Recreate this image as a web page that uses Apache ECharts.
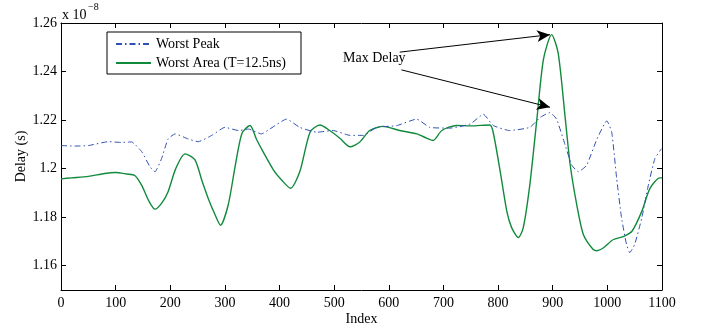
<!DOCTYPE html>
<html>
<head>
<meta charset="utf-8">
<script src="https://cdn.jsdelivr.net/npm/echarts@6/dist/echarts.min.js"></script>
<style>html,body{margin:0;padding:0;background:#fff}#c{width:701px;height:331px}</style>
</head>
<body>
<div id="c"></div>
<script>
// Data in units of 1e-8 s
const peakIdx = [0,25,50,87,110,129,148,163,172,184,196,209,233,251,276,300,325,343,367,382,413,437,468,498,529,553,578,614,651,675,712,749,773,791,821,858,877,895,907,923,935,947,962,981,999,1008,1017,1026,1035,1041,1050,1063,1075,1087,1099];
const peakVal = [1.2095,1.2093,1.2095,1.2111,1.2108,1.2110,1.2069,1.2007,1.1987,1.2041,1.2122,1.2143,1.2122,1.2111,1.2137,1.2170,1.2157,1.2163,1.2143,1.2163,1.2204,1.2170,1.2150,1.2157,1.2137,1.2137,1.2170,1.2177,1.2204,1.2170,1.2167,1.2184,1.2224,1.2178,1.2157,1.2170,1.2211,1.2231,1.2204,1.2095,1.2014,1.1987,1.2014,1.2122,1.2197,1.2150,1.1960,1.1797,1.1688,1.1654,1.1688,1.1797,1.1932,1.2041,1.2082];
const areaIdx = [0,20,50,80,100,120,135,148,160,172,185,196,210,227,245,258,270,282,292,306,318,331,346,358,370,389,405,420,437,456,474,492,511,529,547,565,590,620,651,670,681,697,724,749,785,791,804,816,825,837,846,858,871,883,898,910,923,932,944,956,974,981,993,1011,1029,1045,1063,1078,1096,1100];
const areaVal = [1.1958,1.1962,1.1968,1.1980,1.1984,1.1978,1.1972,1.1930,1.1870,1.1833,1.1860,1.1905,1.2000,1.2061,1.2037,1.1950,1.1874,1.1810,1.1767,1.1850,1.2000,1.2144,1.2178,1.2120,1.2069,1.1994,1.1950,1.1919,1.1987,1.2151,1.2180,1.2157,1.2124,1.2090,1.2110,1.2157,1.2174,1.2157,1.2143,1.2125,1.2116,1.2157,1.2178,1.2176,1.2180,1.2150,1.1987,1.1824,1.1756,1.1716,1.1756,1.1932,1.2204,1.2450,1.2552,1.2476,1.2205,1.2015,1.1851,1.1729,1.1667,1.1662,1.1674,1.1708,1.1720,1.1742,1.1824,1.1919,1.1962,1.1962];
const xTicks = [0,100,200,300,400,500,600,700,800,900,1000,1100];
const yTicks = [1.16,1.18,1.20,1.22,1.24,1.26];
const seriesNames = ['Worst Peak','Worst Area (T=12.5ns)'];
// annotation arrows: [start, tip] in data coords
const arrowA = [[620,1.2480],[895,1.2552]];
const arrowB = [[623,1.2407],[895,1.2253]];

const FONT = 'Liberation Serif';
const FS = 14;
const peakData = peakIdx.map((x,i)=>[x,peakVal[i]]);
const areaData = areaIdx.map((x,i)=>[x,areaVal[i]]);

const tickCommon = {show:true, inside:true, length:5, lineStyle:{color:'#000',width:1}};
const chart = echarts.init(document.getElementById('c'), null, {renderer:'canvas'});
chart.setOption({
  animation:false,
  backgroundColor:'#fff',
  grid:{left:61, right:39, top:23, bottom:38, containLabel:false},
  legend:{
    orient:'vertical', left:107, top:32,
    padding:[5,15,4,8], itemGap:5, itemWidth:35, itemHeight:14,
    borderColor:'#000', borderWidth:1, backgroundColor:'#fff',
    itemStyle:{opacity:0},
    textStyle:{fontFamily:FONT, fontSize:FS, color:'#000'},
    data:seriesNames
  },
  xAxis:[{
    type:'value', min:0, max:1100, interval:100, position:'bottom',
    name:'Index', nameLocation:'middle', nameGap:22, nameMoveOverlap:false,
    nameTextStyle:{fontFamily:FONT, fontSize:FS, color:'#000'},
    axisLine:{show:true, lineStyle:{color:'#000',width:1}},
    axisTick:tickCommon,
    axisLabel:{fontFamily:FONT, fontSize:FS, color:'#000', margin:6, customValues:xTicks,
      formatter:v=>String(v)},
    splitLine:{show:false}
  },{
    type:'value', min:0, max:1100, interval:100, position:'top',
    axisLine:{show:true, onZero:false, lineStyle:{color:'#000',width:1}},
    axisTick:tickCommon, axisLabel:{show:false}, splitLine:{show:false}
  }],
  yAxis:[{
    type:'value', min:1.15, max:1.26, position:'left',
    name:'Delay (s)', nameLocation:'middle', nameGap:33, nameRotate:90, nameMoveOverlap:false,
    nameTextStyle:{fontFamily:FONT, fontSize:FS, color:'#000'},
    axisLine:{show:true, onZero:false, lineStyle:{color:'#000',width:1}},
    axisTick:Object.assign({customValues:yTicks}, tickCommon),
    axisLabel:{fontFamily:FONT, fontSize:FS, color:'#000', margin:4, customValues:yTicks,
      formatter:v=>String(parseFloat((+v).toFixed(2)))},
    splitLine:{show:false}
  },{
    type:'value', min:1.15, max:1.26, position:'right',
    axisLine:{show:true, onZero:false, lineStyle:{color:'#000',width:1}},
    axisTick:Object.assign({customValues:yTicks}, tickCommon),
    axisLabel:{show:false}, splitLine:{show:false}
  }],
  series:[{
    name:seriesNames[0], type:'line', data:peakData, symbol:'none', showSymbol:false, smooth:0.15,
    lineStyle:{color:'#3050b2', width:1, type:[6,3,1.5,3]}, itemStyle:{color:'#3050b2'}, z:3
  },{
    name:seriesNames[1], type:'line', data:areaData, symbol:'none', showSymbol:false, smooth:0.25,
    lineStyle:{color:'#128a3c', width:1.4}, itemStyle:{color:'#128a3c'}, z:2,
    markLine:{
      silent:true, symbol:['none','arrow'], symbolSize:[9,13],
      lineStyle:{color:'#000', width:1, type:'solid'},
      label:{show:false},
      data:[
        [{coord:arrowA[0]},{coord:arrowA[1]}],
        [{coord:arrowB[0]},{coord:arrowB[1]}]
      ]
    }
  }],
  graphic:[
    {type:'text', left:62, top:8, style:{text:'x 10', font:'14px "Liberation Serif"', fill:'#000'}},
    {type:'text', left:88, top:2, style:{text:'\u22128', font:'10px "Liberation Serif"', fill:'#000'}},
    {type:'text', left:343, top:51, style:{text:'Max Delay', font:'14px "Liberation Serif"', fill:'#000'}}
  ]
});
</script>
</body>
</html>
